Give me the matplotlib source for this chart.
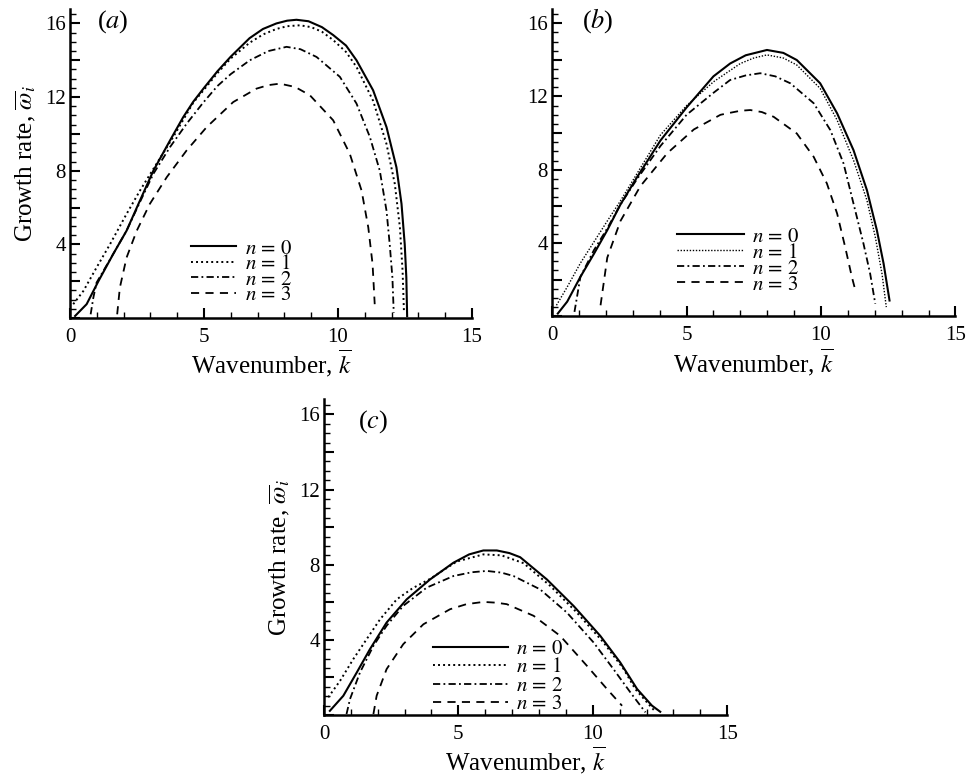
import matplotlib
matplotlib.use('Agg')
import matplotlib.pyplot as plt
from matplotlib.ticker import MultipleLocator, FuncFormatter

plt.rcParams['font.family'] = ['Liberation Serif', 'DejaVu Serif']
plt.rcParams['mathtext.fontset'] = 'stix'

# ---- panel (a) ----
a_k0 = [0.19, 0.62, 1.06, 1.61, 2.11, 2.61, 3.11, 3.73, 4.22, 4.6, 5.0, 5.5, 6.0, 6.7, 7.2, 7.7, 8.1,
        8.45, 8.9, 9.4, 9.82, 10.3, 10.69, 11.31, 11.81, 12.18, 12.37, 12.49, 12.55, 12.58]
a_w0 = [0.11, 0.75, 2.0, 3.47, 4.74, 6.38, 8.0, 9.64, 10.9, 11.75, 12.5, 13.4, 14.2, 15.2, 15.7, 16.0, 16.15,
        16.2, 16.12, 15.8, 15.37, 14.8, 14.0, 12.37, 10.37, 8.19, 6.2, 4.0, 2.2, 0.1]
a_k1 = [0.12, 0.5, 0.99, 1.49, 2.11, 2.61, 3.23, 3.85, 4.6, 5.0, 5.5, 6.0, 6.7, 7.2, 7.7, 8.1, 8.58,
        9.0, 9.4, 9.82, 10.3, 10.69, 11.31, 11.81, 12.12, 12.31, 12.41, 12.46]
a_w1 = [0.75, 1.47, 2.74, 4.0, 5.65, 6.92, 8.38, 9.83, 11.7, 12.4, 13.3, 14.1, 14.95, 15.4, 15.7, 15.85, 15.9,
        15.8, 15.55, 15.1, 14.45, 13.64, 11.8, 9.45, 7.28, 4.92, 2.56, 0.38]
a_k2 = [0.77, 0.87, 0.99, 1.61, 2.11, 2.61, 3.11, 3.73, 4.35, 4.97, 5.5, 6.0, 6.71, 7.4, 8.08,
        8.6, 9.2, 10.07, 10.69, 11.19, 11.56, 11.81, 11.93, 12.03, 12.08]
a_w2 = [0.2, 1.1, 1.92, 3.47, 4.74, 6.3, 7.83, 9.28, 10.55, 11.7, 12.6, 13.25, 14.0, 14.5, 14.73,
        14.6, 14.18, 13.1, 11.65, 9.83, 8.0, 5.83, 4.0, 2.2, 0.29]
a_k3 = [1.76, 1.86, 2.11, 2.49, 2.98, 3.61, 4.35, 5.1, 6.09, 6.96, 7.4, 7.83, 8.4, 8.95, 9.82, 10.44,
        10.88, 11.13, 11.29, 11.37]
a_w3 = [0.2, 1.65, 3.28, 4.74, 6.2, 7.65, 9.1, 10.37, 11.73, 12.46, 12.65, 12.73, 12.55, 12.1, 10.74, 8.92,
        6.92, 4.92, 2.93, 0.75]

# ---- panel (b) ----
b_k0 = [0.21, 0.56, 1.05, 1.55, 2.05, 2.54, 3.16, 4.03, 5.0, 6.0, 6.62, 7.2, 7.99, 8.6, 9.1, 9.97,
        10.6, 11.21, 11.71, 12.08, 12.33, 12.55]
b_w0 = [0.15, 0.8, 2.15, 3.4, 4.7, 6.1, 7.6, 9.6, 11.4, 13.1, 13.8, 14.25, 14.54, 14.38, 13.99, 12.72,
        11.08, 9.07, 6.88, 4.69, 2.87, 0.86]
b_k1 = [0.16, 0.56, 1.05, 2.05, 2.54, 4.03, 5.0, 6.0, 7.0, 7.5, 7.99, 8.6, 9.1, 9.97, 10.6, 11.21,
        11.71, 12.02, 12.27, 12.43]
b_w1 = [0.6, 1.6, 2.9, 5.2, 6.3, 9.9, 11.5, 12.8, 13.8, 14.1, 14.27, 14.1, 13.72, 12.44, 10.71, 8.52,
        6.33, 4.33, 2.32, 0.5]
b_k2 = [0.83, 1.05, 1.55, 2.05, 2.54, 3.16, 4.03, 5.0, 6.0, 6.62, 7.2, 7.74, 8.3, 8.86, 9.73, 10.35,
        10.84, 11.21, 11.58, 11.83, 12.02]
b_w2 = [0.24, 2.15, 3.6, 4.8, 6.1, 7.5, 9.3, 11.0, 12.2, 12.9, 13.15, 13.27, 13.1, 12.72, 11.63, 10.16,
        8.34, 6.15, 3.97, 2.32, 0.68]
b_k3 = [1.8, 2.05, 2.54, 3.28, 4.28, 5.27, 6.26, 6.62, 7.0, 7.37, 7.8, 8.24, 9.1, 9.73, 10.22, 10.6,
        10.9, 11.15, 11.28]
b_w3 = [0.6, 3.2, 5.2, 7.1, 8.9, 10.2, 11.0, 11.11, 11.22, 11.26, 11.15, 10.89, 9.98, 8.7, 7.25, 5.61,
        3.78, 2.14, 1.41]

# ---- panel (c) ----
c_k0 = [0.22, 0.72, 1.22, 1.71, 2.33, 3.08, 3.95, 4.82, 5.4, 5.93, 6.43, 6.9, 7.3, 8.29, 9.29, 10.28,
        11.02, 11.65, 12.2, 12.51]
c_w0 = [0.22, 1.02, 2.26, 3.5, 4.92, 6.16, 7.22, 8.11, 8.55, 8.76, 8.76, 8.62, 8.4, 7.22, 5.8, 4.21,
        2.8, 1.38, 0.5, 0.17]
c_k1 = [0.16, 0.6, 1.09, 1.59, 2.09, 2.71, 3.3, 3.95, 4.94, 5.93, 6.6, 7.0, 7.43, 8.42, 9.41, 10.4,
        11.15, 11.58, 12.0, 12.33]
c_w1 = [0.94, 1.82, 2.97, 4.04, 5.1, 6.16, 6.75, 7.25, 8.17, 8.55, 8.5, 8.3, 8.08, 6.87, 5.45, 3.86,
        2.44, 1.38, 0.7, 0.17]
c_k2 = [0.84, 0.97, 1.34, 1.84, 2.33, 2.95, 3.82, 4.82, 5.5, 6.06, 6.6, 7.05, 8.04, 9.04, 10.03,
        10.77, 11.4, 11.96]
c_w2 = [0.05, 0.85, 2.26, 3.68, 4.75, 5.81, 6.78, 7.4, 7.6, 7.67, 7.58, 7.4, 6.69, 5.45, 3.86,
        2.44, 1.2, 0.14]
c_k3 = [1.84, 1.96, 2.33, 2.95, 3.7, 4.69, 5.3, 5.93, 6.4, 6.8, 7.8, 8.79, 9.78, 10.53, 11.09]
c_w3 = [0.05, 1.02, 2.44, 3.77, 4.83, 5.63, 5.9, 6.02, 5.98, 5.9, 5.28, 4.21, 2.62, 1.38, 0.49]

labels = [r'$n\,=\,0$', r'$n\,=\,1$', r'$n\,=\,2$', r'$n\,=\,3$']


def styles(fine_dots=False):
    dot = dict(ls=(0, (1, 1.2)), lw=1.0) if fine_dots else dict(ls=(0, (1, 1.6)), lw=1.4)
    return [dict(ls='-', lw=1.5),
            dot,
            dict(ls=(0, (4, 1.8, 1, 1.8)), lw=1.3),
            dict(ls=(0, (4.5, 3.5)), lw=1.3)]


def panel(ax, ks, ws, tag, tagpos, legpos, hlen, lspace, ylab=True, fine_dots=False):
    for k, w, lab, st in zip(ks, ws, labels, styles(fine_dots)):
        ax.plot(k, w, color='black', label=lab, **st)
    ax.set_xlim(0, 15)
    ax.set_ylim(0, 16.8)
    for s in ['top', 'right']:
        ax.spines[s].set_visible(False)
    for s in ['left', 'bottom']:
        ax.spines[s].set_linewidth(1.8)
    ax.xaxis.set_major_locator(MultipleLocator(5))
    ax.xaxis.set_minor_locator(MultipleLocator(1))
    ax.yaxis.set_major_locator(MultipleLocator(2))
    ax.yaxis.set_minor_locator(MultipleLocator(0.5))
    ax.yaxis.set_major_formatter(FuncFormatter(
        lambda v, p: '%d' % v if v > 0 and int(round(v)) % 4 == 0 else ''))
    ax.tick_params(which='both', direction='in', labelsize=15)
    ax.tick_params(axis='x', which='major', length=7, width=1.5, pad=7)
    ax.tick_params(axis='y', which='major', length=7, width=1.5, pad=3)
    ax.tick_params(which='minor', length=4, width=1)
    ax.set_xlabel(r'Wavenumber, $\overline{k}$', fontsize=18, labelpad=1)
    if ylab:
        ax.set_ylabel(r'Growth rate, $\overline{\omega}_i$', fontsize=18, labelpad=5)
    ax.text(tagpos[0], tagpos[1], '($%s$)' % tag, transform=ax.transAxes,
            fontsize=19, va='center', ha='left')
    ax.legend(loc='upper left', bbox_to_anchor=legpos, frameon=False,
              fontsize=15, handlelength=hlen, handletextpad=0.4,
              labelspacing=lspace, borderpad=0, borderaxespad=0)


fig = plt.figure(figsize=(9.67, 7.79), dpi=100)
ax1 = fig.add_axes([0.0724, 0.5918, 0.4157, 0.397])
ax2 = fig.add_axes([0.571, 0.594, 0.417, 0.395])
ax3 = fig.add_axes([0.335, 0.0822, 0.417, 0.405])

panel(ax1, [a_k0, a_k1, a_k2, a_k3], [a_w0, a_w1, a_w2, a_w3], 'a',
      (0.067, 0.96), (0.30, 0.255), 2.2, -0.2)
panel(ax2, [b_k0, b_k1, b_k2, b_k3], [b_w0, b_w1, b_w2, b_w3], 'b',
      (0.074, 0.96), (0.31, 0.29), 3.2, -0.17, ylab=False, fine_dots=True)
panel(ax3, [c_k0, c_k1, c_k2, c_k3], [c_w0, c_w1, c_w2, c_w3], 'c',
      (0.084, 0.93), (0.27, 0.24), 3.6, -0.05)

fig.savefig('out.png', dpi=100)
